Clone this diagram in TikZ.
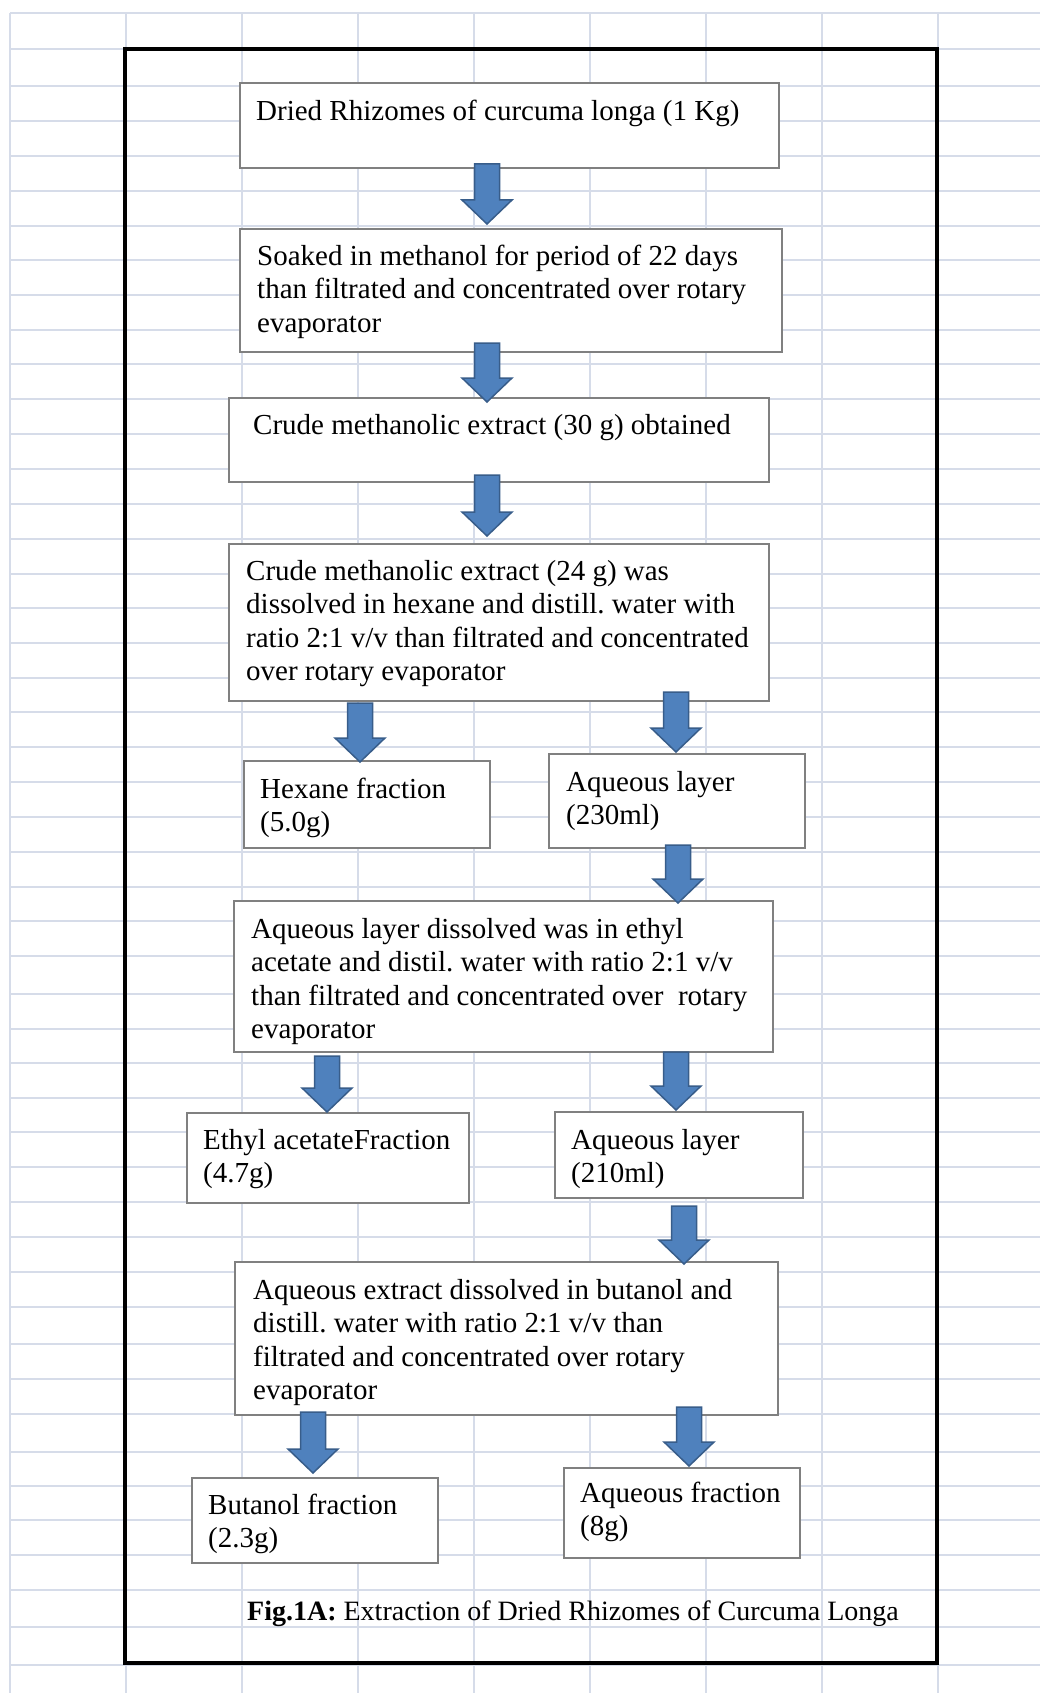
\documentclass[tikz,border=0pt]{standalone}
\usepackage{fontspec}
\setmainfont{Liberation Serif}
\usetikzlibrary{calc}
\frenchspacing
\definecolor{gridc}{RGB}{214,220,233}
\definecolor{boxc}{RGB}{128,128,128}
\definecolor{arrfill}{RGB}{79,129,189}
\definecolor{arrline}{RGB}{56,93,138}
\tikzset{
  boxnode/.style={draw=boxc, line width=1.5pt, fill=white, inner sep=0pt, outer sep=0pt, anchor=north west},
  txt/.style={anchor=north west, inner sep=0pt, align=left, font=\fontsize{29}{33.5}\selectfont\frenchspacing},
  captxt/.style={anchor=base west, inner sep=0pt, font=\fontsize{28}{33}\selectfont},
  barrow/.style={fill=arrfill, draw=arrline, line width=1.5pt, line join=miter},
  gridline/.style={draw=gridc, line width=1.3pt},
  frameline/.style={draw=black, line width=3.3pt}
}
\newcommand\mkbox[5]{\node[boxnode, minimum width={#4-#2}, minimum height={#5-#3}] (#1) at (#2,#3) {};}
\newcommand\blockarrow[2]{%
  \filldraw[barrow] let \p1=(#1), \p2=(#2) in
    (\x1-12.5pt,\y1) -- (\x1+12.5pt,\y1) -- (\x1+12.5pt,\y2+24pt) -- (\x1+25pt,\y2+24pt)
    -- (\x2,\y2) -- (\x1-25pt,\y2+24pt) -- (\x1-12.5pt,\y2+24pt) -- cycle;}
\begin{document}
\begin{tikzpicture}[x=1pt,y=-1pt]
\useasboundingbox (0,0) rectangle (1040,1693);
\fill[white] (0,0) rectangle (1040,1693);
% spreadsheet grid
\foreach \gy in {13,49,86,121,156,191,226,260,295,330,364,399,434,469,504,539,574,608,643,678,712,747,782,817,852,887,921,956,994,1029,1063,1098,1132,1167,1202,1237,1272,1307,1344,1379,1414,1452,1486,1520,1555,1590,1627,1665}
  \draw[gridline] (10,\gy) -- (1040,\gy);
\foreach \gx in {10,126,242,358,474,590,706,822,938}
  \draw[gridline] (\gx,13) -- (\gx,1693);
% outer frame
\draw[frameline] (125,49) rectangle (937,1663);
% boxes
\mkbox{b1}{240}{83}{779}{168}
\mkbox{b2}{240}{229}{782}{352}
\mkbox{b3}{229}{398}{769}{482}
\mkbox{b4}{229}{544}{769}{701}
\mkbox{b5}{244}{761}{490}{848}
\mkbox{b6}{549}{754}{805}{848}
\mkbox{b7}{234}{901}{773}{1052}
\mkbox{b8}{187}{1113}{469}{1203}
\mkbox{b9}{555}{1112}{803}{1198}
\mkbox{b10}{235}{1262}{778}{1415}
\mkbox{b11}{192}{1478}{438}{1563}
\mkbox{b12}{564}{1468}{800}{1558}
% arrow end points
\coordinate (a1s) at (487,164);  \coordinate (a1e) at (487,224);
\coordinate (a2s) at (487,343);  \coordinate (a2e) at (487,402);
\coordinate (a3s) at (487,475);  \coordinate (a3e) at (487,536);
\coordinate (a4s) at (360,703);  \coordinate (a4e) at (360,762);
\coordinate (a5s) at (676,692);  \coordinate (a5e) at (676,752);
\coordinate (a6s) at (678,845);  \coordinate (a6e) at (678,903);
\coordinate (a7s) at (327,1056); \coordinate (a7e) at (327,1112);
\coordinate (a8s) at (676,1052); \coordinate (a8e) at (676,1110);
\coordinate (a9s) at (684,1206); \coordinate (a9e) at (684,1264);
\coordinate (a10s) at (313,1412); \coordinate (a10e) at (313,1473);
\coordinate (a11s) at (689,1407); \coordinate (a11e) at (689,1466);
\blockarrow{a1s}{a1e}
\blockarrow{a2s}{a2e}
\blockarrow{a3s}{a3e}
\blockarrow{a4s}{a4e}
\blockarrow{a5s}{a5e}
\blockarrow{a6s}{a6e}
\blockarrow{a7s}{a7e}
\blockarrow{a8s}{a8e}
\blockarrow{a9s}{a9e}
\blockarrow{a10s}{a10e}
\blockarrow{a11s}{a11e}
% texts
\node[txt] (t1) at (256,96.5) {\strut Dried Rhizomes of curcuma longa (1 Kg)};
\node[txt] (t2) at (257,241.5) {\strut Soaked in methanol for period of 22 days\\than filtrated and concentrated over rotary\\evaporator};
\node[txt] (t3) at (253,410.5) {\strut Crude methanolic extract (30 g) obtained};
\node[txt] (t4) at (246,556.5) {\strut Crude methanolic extract (24 g) was\\dissolved in hexane and distill. water with\\ratio 2:1 v/v than filtrated and concentrated\\over rotary evaporator};
\node[txt] (t5) at (260,774.5) {\strut Hexane fraction\\(5.0g)};
\node[txt] (t6) at (566,767.5) {\strut Aqueous layer\\(230ml)};
\node[txt] (t7) at (251,914.5) {\strut Aqueous layer dissolved was in ethyl\\acetate and distil. water with ratio 2:1 v/v\\than filtrated and concentrated over\ \ rotary\\evaporator};
\node[txt] (t8) at (203,1125.5) {\strut Ethyl acetateFraction\\(4.7g)};
\node[txt] (t9) at (571,1125.5) {\strut Aqueous layer\\(210ml)};
\node[txt] (t10) at (253,1275.5) {\strut Aqueous extract dissolved in butanol and\\distill. water with ratio 2:1 v/v than\\filtrated and concentrated over rotary\\evaporator};
\node[txt] (t11) at (208,1490.5) {\strut Butanol fraction\\(2.3g)};
\node[txt] (t12) at (580,1478.5) {\strut Aqueous fraction\\(8g)};
\node[captxt] (cap) at (247,1620) {\textbf{Fig.1A:} Extraction of Dried Rhizomes of Curcuma Longa};
\end{tikzpicture}
\end{document}
